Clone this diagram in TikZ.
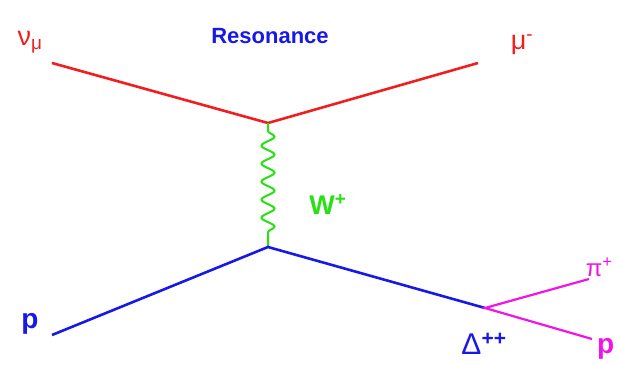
\documentclass[tikz,border=0pt]{standalone}
\usepackage{fontspec}
\setmainfont{Liberation Sans}
\usetikzlibrary{decorations.pathmorphing}

\begin{document}
\begin{tikzpicture}[
    x=1pt, y=-1pt,
    fermion/.style={line width=2.6pt},
    boson/.style={line width=2pt, color=wgreen, decorate,
        decoration={snake, amplitude=6.5pt, segment length=18pt, pre length=8pt, post length=9pt}},
    lbl/.style={inner sep=0pt, font=\fontsize{24}{28}\selectfont}
]
\definecolor{wgreen}{RGB}{40,225,20}
\definecolor{lred}{RGB}{240,30,30}
\definecolor{lblue}{RGB}{25,25,230}
\definecolor{lmag}{RGB}{240,20,230}
\useasboundingbox (0,0) rectangle (618,364);
% vertices
\coordinate (nu) at (52,63);
\coordinate (mu) at (478,63);
\coordinate (vtop) at (268,123);
\coordinate (vbot) at (268,247);
\coordinate (pin) at (52,335);
\coordinate (delta) at (485,308);
\coordinate (piout) at (589,279);
\coordinate (pout) at (592,339);
% lines
\draw[fermion, lred] (nu) -- (vtop) -- (mu);
\draw[boson] (vtop) -- (vbot);
\draw[fermion, lblue] (pin) -- (vbot) -- (delta);
\draw[fermion, lmag, line width=2.2pt] (piout) -- (delta) -- (pout);
% labels
\node[lbl, lred, font=\fontsize{27}{30}\selectfont] (nulbl) at (30,42) {ν\textsubscript{μ}};
\node[lbl, lblue, font=\bfseries\fontsize{22}{26}\selectfont] (reslbl) at (270,36) {Resonance};
\node[lbl, lred, font=\fontsize{27}{30}\selectfont] (mulbl) at (522,45) {μ\textsuperscript{-}};
\node[lbl, wgreen, font=\bfseries\fontsize{27}{30}\selectfont] (wlbl) at (328,204) {W\textsuperscript{+}};
\node[lbl, lblue, font=\bfseries\fontsize{28}{30}\selectfont] (plbl) at (30,324) {p};
\node[lbl, lblue, font=\fontsize{30}{32}\selectfont] (dlbl) at (484,344) {Δ\textsuperscript{\bfseries ++}};
\node[lbl, lmag, anchor=east, font=\fontsize{24}{28}\selectfont] (pilbl) at (613,267) {π\textsuperscript{+}};
\node[lbl, lmag, anchor=west, font=\bfseries\fontsize{28}{30}\selectfont] (p2lbl) at (597,349) {p};
\end{tikzpicture}
\end{document}
